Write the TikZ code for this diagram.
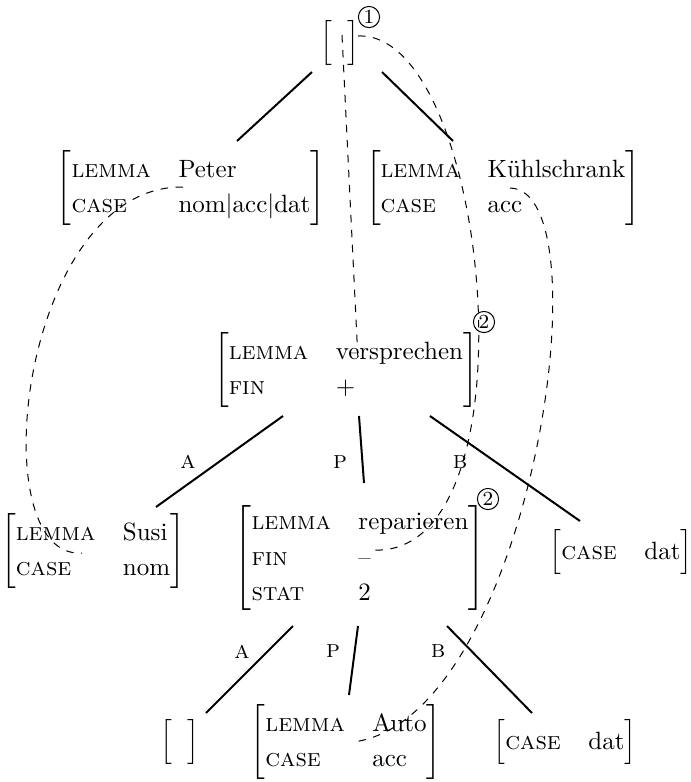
\documentclass[tikz,border=0pt]{standalone}
\usetikzlibrary{calc}
\renewcommand{\arraystretch}{1.17}
\newcommand{\avm}[1]{$\left[\begin{tabular}{@{}l@{\hspace{11pt}}l@{}}#1\end{tabular}\right]$}
\newcommand{\ft}[1]{\textsc{#1}}

\begin{document}
\begin{tikzpicture}[
    x=0.4pt, y=-0.4pt,
    fs/.style={inner sep=0pt, outer sep=0pt},
    branch/.style={thick},
    coref/.style={dashed, thin},
    rel/.style={inner sep=0pt},
    tag/.style={draw, thin, circle, inner sep=0.6pt, font=\footnotesize}
]
\useasboundingbox (0,0) rectangle (691,782);

% top level
\node[fs] (root) at (340,43) {$\Big[\hspace{6pt}\Big]$};
\node[tag] (tag1) at (369,17) {1};

\node[fs] (peter) at (191,188) {\avm{\ft{lemma} & Peter\\ \ft{case} & nom$|$acc$|$dat}};
\node[fs] (kuehl) at (503,188) {\avm{\ft{lemma} & Kühlschrank\\ \ft{case} & acc}};

% versprechen
\node[fs] (verspr) at (346,370) {\avm{\ft{lemma} & versprechen\\ \ft{fin} & +}};
\node[tag] (tag2a) at (484,322) {2};

\node[fs] (susi) at (93,551) {\avm{\ft{lemma} & Susi\\ \ft{case} & nom}};
\node[fs] (repar) at (360,558) {\avm{\ft{lemma} & reparieren\\ \ft{fin} & --\\ \ft{stat} & 2}};
\node[tag] (tag2b) at (488,499) {2};
\node[fs] (dat1) at (621,552) {\avm{\ft{case} & dat}};

% reparieren
\node[fs] (empty) at (180,742) {$\Big[\hspace{6pt}\Big]$};
\node[fs] (auto) at (346,742) {\avm{\ft{lemma} & Auto\\ \ft{case} & acc}};
\node[fs] (dat2) at (565,742) {\avm{\ft{case} & dat}};

% branches
\draw[branch] ([shift={(-28,29)}]root.center) -- ([shift={(46,-47)}]peter.center);
\draw[branch] ([shift={(42,29)}]root.center) -- ([shift={(-50,-47)}]kuehl.center);

\draw[branch] ([shift={(-63,46)}]verspr.center) -- ([shift={(63,-44)}]susi.center);
\draw[branch] ([shift={(13,46)}]verspr.center) -- ([shift={(4,-75)}]repar.center);
\draw[branch] ([shift={(84,46)}]verspr.center) -- ([shift={(-41,-31)}]dat1.center);
\node[rel] (a1) at (188,462) {\ft{a}};
\node[rel] (p1) at (340,462) {\ft{p}};
\node[rel] (b1) at (460,462) {\ft{b}};

\draw[branch] ([shift={(-67,68)}]repar.center) -- ([shift={(26,-29)}]empty.center);
\draw[branch] ([shift={(-2,68)}]repar.center) -- ([shift={(3,-47)}]auto.center);
\draw[branch] ([shift={(87,68)}]repar.center) -- ([shift={(-33,-29)}]dat2.center);
\node[rel] (a2) at (242,652) {\ft{a}};
\node[rel] (p2) at (333,651) {\ft{p}};
\node[rel] (b2) at (438,651) {\ft{b}};

% coreference
\draw[coref] ([shift={(2,-8)}]root.center) -- ([shift={(12,-10)}]verspr.center);
\draw[coref] ([shift={(18,-7)}]root.center) .. controls +(132,-6) and +(168,10) .. ([shift={(12,-8)}]repar.center);
\draw[coref] ([shift={(-8,-1)}]peter.center) .. controls +(-163,-2) and +(-102,7) .. ([shift={(-11,2)}]susi.center);
\draw[coref] ([shift={(7,0)}]kuehl.center) .. controls +(98,2) and +(177,-22) .. ([shift={(7,0)}]auto.center);

\end{tikzpicture}
\end{document}
